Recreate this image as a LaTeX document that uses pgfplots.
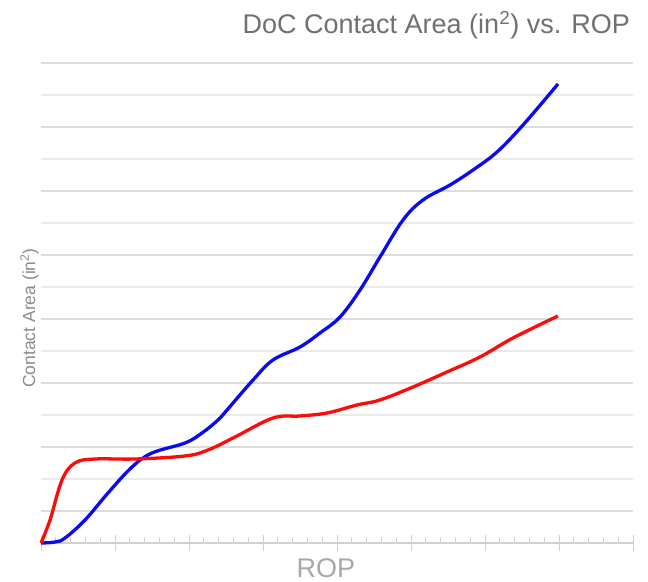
\documentclass[border=0pt]{standalone}
\usepackage{fontspec}
\setmainfont{Liberation Sans}
\usepackage{pgfplots}
\pgfplotsset{compat=1.18}
\definecolor{gridmaj}{HTML}{DCDCDC}
\definecolor{gridmin}{HTML}{EAEAEA}
\definecolor{axcol}{HTML}{D0D0D0}
\definecolor{titlecol}{HTML}{707070}
\definecolor{roplab}{HTML}{A8A8A8}
\definecolor{ylab}{HTML}{8A8A8A}
\definecolor{cred}{HTML}{FF0A0A}
\definecolor{cblue}{HTML}{0A0AF0}
\begin{document}
\begin{tikzpicture}
\begin{axis}[
  scale only axis, width=592bp, height=480bp,
  at={(0,0)}, anchor=south west,
  xmin=0, xmax=8, ymin=0, ymax=15,
  axis x line*=bottom, axis y line*=left,
  x axis line style={-, draw=axcol, line width=1.2bp},
  y axis line style={draw=none},
  xtick={0,1,...,8}, minor x tick num=4,
  xticklabels={}, yticklabels={},
  tick align=center,
  major tick length=15bp, minor tick length=6bp,
  xtick style={draw=axcol, line width=1bp},
  minor x tick style={draw=axcol, line width=0.9bp, yshift=3bp},
  ytick={1,3,...,15}, minor ytick={2,4,...,14},
  ytick style={draw=none}, minor y tick style={draw=none},
  ymajorgrids, yminorgrids,
  major y grid style={draw=gridmaj, line width=1.3bp},
  minor y grid style={draw=gridmin, line width=1.1bp},
  clip=false,
]
\addplot[cblue, line width=3.3bp, smooth, tension=0.6] coordinates {
(0,0) (0.19,0.03) (0.324,0.156) (0.595,0.719) (0.905,1.5625) (1.230,2.375)
(1.5,2.8125) (1.946,3.125) (2.176,3.4375) (2.392,3.844) (2.514,4.156)
(2.865,5.094) (3.135,5.719) (3.5,6.125) (3.770,6.5625) (4.041,7.0625)
(4.311,7.906) (4.581,8.9375) (4.892,10.094) (5.162,10.719) (5.527,11.1875)
(5.838,11.656) (6.162,12.219) (6.514,13.0625) (6.986,14.344)
};
\addplot[cred, line width=3.3bp, smooth, tension=0.6] coordinates {
(0,0) (0.122,0.719) (0.284,1.969) (0.459,2.5) (0.730,2.625) (1.270,2.625)
(1.946,2.719) (2.257,2.906) (2.622,3.3125) (3.135,3.906) (3.5,3.969)
(3.865,4.0625) (4.270,4.3125) (4.581,4.469) (5.027,4.875) (5.486,5.344)
(5.932,5.8125) (6.378,6.406) (6.986,7.094)
};
\end{axis}
\node[anchor=base east, text=titlecol, font=\fontsize{27bp}{30bp}\selectfont, inner sep=0pt] at (589bp,509bp) {DoC Contact Area (in\textsuperscript{2}) vs. ROP};
\node[anchor=base, text=roplab, font=\fontsize{27bp}{30bp}\selectfont, inner sep=0pt] at (285bp,-34bp) {ROP};
\node[anchor=base, rotate=90, text=ylab, font=\fontsize{17.5bp}{20bp}\selectfont, inner sep=0pt] at (-6bp,225bp) {Contact Area (in\textsuperscript{2})};
\pgfresetboundingbox
\path[use as bounding box] (-41bp,-39bp) rectangle (607bp,543bp);
\end{tikzpicture}
\end{document}
